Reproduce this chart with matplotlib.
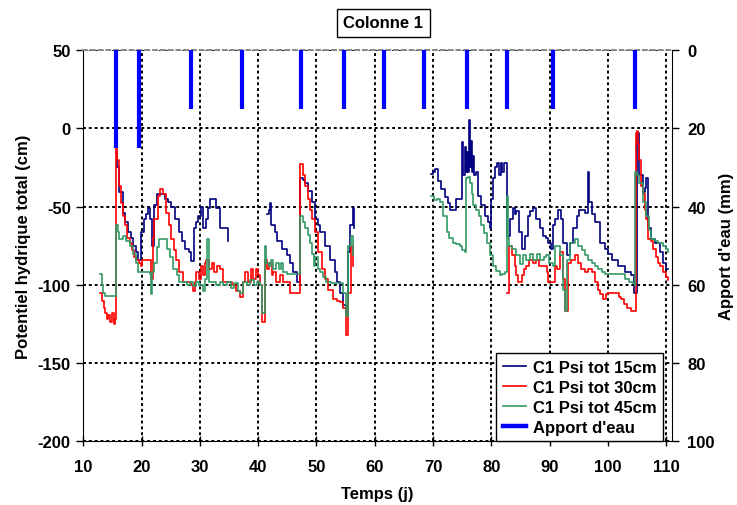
import numpy as np
import matplotlib
matplotlib.use('Agg')
import matplotlib.pyplot as plt
from matplotlib.lines import Line2D

plt.rcParams['font.family'] = ['Liberation Sans', 'DejaVu Sans']
plt.rcParams['font.weight'] = 'bold'
plt.rcParams['axes.labelweight'] = 'bold'
plt.rcParams['axes.unicode_minus'] = False
plt.rcParams['font.size'] = 12

nan = float('nan')

# Potentiel hydrique total (cm) - sonde 15 cm
t15 = [15.6, 15.8, 16.2, 16.8, 17.2, 17.66, 18.1, 18.5, 19.0, 19.4, 19.95, 20.5, 20.8, 21.1, 21.5, 21.8,
       22.2, 22.6, 23.2, 23.7, 24.1, 24.5, 25.0, 25.7, 26.5, 27.0, 27.4, 28.2, 28.5, 29.0, 29.4, 29.7,
       30.2, 30.5, 31.0, 31.4, 31.7, 32.5, 32.8, 33.4, 33.5, 34.5, 34.8, nan,
       41.5, 41.8, 42.1, 42.2, 42.9, 43.2, 44.0, 44.9, 45.4, 46.0, 46.6, 47.15, 47.2, 47.6, 48.0, 48.6,
       49.2, 49.7, 50.2, 50.6, 51.4, 52.3, 53.2, 53.6, 54.0, 54.6, 55.0, 55.4, 55.8, 56.3, 56.4, nan,
       69.7, 70.0, 70.3, 70.9, 71.4, 72.0, 72.5, 72.9, 73.7, 74.0, 74.6, 74.9, 75.0, 75.2, 75.4, 75.6,
       75.8, 76.0, 76.1, 76.3, 76.5, 76.7, 76.9, 77.1, 77.4, 77.7, 78.3, 78.9, 79.4, 79.7, 80.0, 80.3,
       80.6, 81.0, 81.3, 81.6, 81.9, 82.2, 82.6, 82.7, 83.2, 83.7, 84.0, 84.3, 84.7, 85.2, 85.7, 86.3,
       86.7, 87.1, 87.7, 88.3, 88.9, 89.4, 89.7, 90.3, 90.6, 90.9, 91.4, 92.0, 92.3, 92.9, 93.4, 94.0,
       94.6, 95.1, 96.0, 96.6, 96.7, 97.2, 97.7, 98.6, 99.4, 100.0, 100.6, 101.7, 102.9, 104.0, 104.5, 104.9,
       105.4, 106.0, 106.4, 106.6, 106.9, 107.4, 108.0, 108.9, 109.4, 110.0, 110.3]
psi15 = [-15, -25, -41, -54, -60, -66, -70, -75, -79, -84, -66, -58, -55, -51, -58, -75,
         -49, -42, -42, -42, -45, -47, -50, -58, -66, -72, -77, -79, -85, -64, -60, -56,
         -50, -64, -58, -51, -45, -45, -51, -51, -64, -64, -72, nan,
         -55, -52, -48, -62, -66, -72, -77, -81, -86, -92, -98, -98, -32, -33, -35, -40,
         -47, -58, -62, -66, -75, -84, -92, -98, -105, -113, -118, -79, -62, -51, -64, nan,
         -29, -28, -26, -34, -39, -44, -48, -52, -52, -45, -45, -45, -9, -30, -12, -28,
         -15, -28, 5, -25, -8, -28, -18, -30, -28, -43, -49, -56, -60, -64, -45, -32,
         -25, -22, -30, -22, -28, -22, -25, -69, -58, -51, -55, -53, -66, -77, -69, -56,
         -53, -51, -58, -64, -69, -70, -73, -77, -62, -58, -52, -58, -73, -81, -73, -64,
         -56, -52, -54, -28, -47, -55, -60, -73, -77, -80, -84, -88, -92, -94, -105, -3,
         -30, -41, -38, -32, -64, -71, -73, -79, -86, -90, -90]

# sonde 30 cm
t30 = [12.9, 13.2, 13.5, 13.8, 14.0, 14.3, 14.6, 14.9, 15.2, 15.5, 15.56, 15.8, 16.2, 16.5, 16.8, 17.2,
       17.5, 17.95, 18.3, 18.7, 19.1, 19.5, 19.95, 20.1, 20.8, 21.3, 21.65, 22.0, 22.2, 22.8, 23.2, 23.6,
       24.2, 24.7, 25.1, 25.5, 25.9, 26.5, 27.1, 27.8, 28.4, 28.8, 29.1, 29.4, 29.8, 30.2, 30.5, 30.8,
       31.1, 31.5, 32.0, 32.5, 33.0, 33.5, 34.0, 34.8, 35.5, 36.2, 36.9, 37.4, 37.8, 38.2, 38.7, 39.1,
       39.6, 40.0, 40.3, 40.6, 41.1, 41.5, 41.9, 42.3, 42.6, 43.1, 43.7, 44.3, 44.9, 45.4, 46.5, 47.15,
       47.2, 47.6, 48.0, 48.5, 48.9, 49.3, 49.7, 50.3, 50.9, 51.4, 52.0, 52.9, 53.5, 54.0, 54.6, 55.04,
       55.4, 56.0, 56.2, nan,
       82.6, 82.97, 83.5, 84.0, 84.3, 84.6, 85.2, 85.6, 86.0, 86.5, 87.1, 87.6, 88.2, 88.8, 89.45, 89.7,
       90.5, 90.9, 91.2, 91.7, 92.3, 92.7, 93.1, 93.6, 94.3, 94.9, 95.4, 96.0, 96.6, 97.2, 97.7, 98.3,
       98.7, 99.1, 99.6, 100.0, 100.8, 101.4, 101.9, 102.3, 102.8, 103.2, 103.9, 104.6, 104.75, 104.9, 105.2, 105.4,
       105.7, 106.0, 106.3, 106.6, 106.9, 107.3, 107.7, 108.2, 108.6, 109.0, 109.4, 109.9, 110.3]
psi30 = [-105, -110, -115, -118, -122, -119, -124, -118, -125, -122, -10, -20, -37, -48, -56, -62,
         -70, -73, -78, -82, -84, -86, -88, -84, -84, -84, -96, -70, -58, -43, -39, -42,
         -54, -62, -71, -78, -84, -92, -98, -98, -100, -104, -98, -92, -96, -88, -94, -86,
         -84, -90, -86, -92, -88, -90, -98, -98, -100, -104, -108, -98, -92, -98, -90, -96,
         -90, -94, -100, -124, -84, -90, -86, -94, -92, -98, -94, -98, -98, -105, -105, -105,
         -23, -30, -37, -45, -52, -58, -66, -79, -90, -96, -103, -109, -110, -111, -115, -132,
         -105, -75, -88, nan,
         -105, -75, -81, -88, -94, -98, -94, -90, -88, -84, -86, -84, -88, -88, -92, -98,
         -98, -88, -90, -79, -96, -117, -86, -84, -81, -86, -90, -92, -90, -92, -98, -103,
         -106, -109, -106, -105, -105, -105, -108, -109, -112, -115, -117, -117, -3, -2, -10, -20,
         -37, -42, -52, -58, -71, -72, -77, -82, -86, -88, -92, -95, -97]

# sonde 45 cm
t45 = [12.9, 13.2, 13.4, 13.8, 14.5, 15.2, 15.55, 15.6, 15.9, 16.2, 16.8, 17.3, 17.95, 18.5, 19.0, 19.4,
       20.0, 20.5, 21.0, 21.4, 21.6, 21.8, 22.2, 22.6, 23.0, 23.7, 24.3, 24.8, 25.4, 26.0, 26.5, 27.2,
       27.8, 28.3, 28.8, 29.3, 29.8, 30.5, 30.9, 31.2, 31.6, 32.2, 32.8, 33.4, 34.0, 34.7, 35.3, 35.9,
       36.5, 36.9, 37.4, 38.0, 38.6, 39.2, 39.8, 40.3, 40.6, 41.1, 41.4, 41.8, 42.2, 42.6, 43.0, 43.5,
       43.9, 44.3, 45.0, 46.0, 47.15, 47.2, 47.6, 48.0, 48.5, 48.9, 49.2, 49.5, 49.8, 50.2, 50.6, 51.2,
       51.7, 52.5, 53.3, 54.0, 54.6, 55.04, 55.4, 56.0, 56.2, nan,
       69.7, 70.1, 70.6, 71.1, 71.7, 72.3, 72.8, 73.4, 74.0, 74.6, 75.0, 75.4, 75.7, 76.0, 76.3, 76.6,
       76.9, 77.4, 77.8, 78.3, 78.8, 79.2, 79.7, 80.3, 80.8, 81.4, 81.9, 82.3, 82.6, 82.8, 83.0, 83.5,
       84.3, 84.9, 85.4, 86.0, 86.6, 87.2, 87.8, 88.4, 89.0, 89.4, 89.9, 90.5, 90.9, 91.4, 91.7, 92.3,
       92.7, 93.0, 93.4, 94.3, 94.9, 95.5, 96.0, 96.6, 97.2, 97.7, 98.3, 98.9, 99.4, 100.5, 101.5, 102.3,
       102.9, 103.6, 104.3, 104.6, 104.7, 105.0, 105.4, 106.0, 106.6, 107.0, 107.4, 108.0, 108.6, 109.4, 109.9, 110.3]
psi45 = [-93, -100, -105, -107, -107, -107, -107, -62, -66, -71, -69, -72, -75, -80, -86, -92,
         -92, -92, -92, -93, -106, -92, -86, -76, -71, -71, -77, -82, -90, -94, -98, -98,
         -100, -98, -101, -98, -100, -104, -96, -71, -98, -98, -100, -98, -100, -98, -102, -99,
         -104, -105, -98, -100, -97, -100, -98, -100, -118, -75, -86, -88, -84, -90, -86, -90,
         -86, -92, -93, -93, -93, -56, -60, -64, -68, -73, -80, -88, -82, -90, -92, -95,
         -98, -99, -99, -99, -105, -120, -75, -69, -81, nan,
         -43, -46, -45, -47, -56, -66, -70, -73, -74, -75, -78, -79, -32, -31, -35, -42,
         -49, -52, -56, -62, -67, -73, -81, -88, -91, -94, -93, -92, -43, -70, -75, -77,
         -81, -87, -81, -84, -80, -84, -80, -84, -82, -81, -86, -88, -75, -75, -81, -103,
         -117, -84, -73, -71, -75, -78, -81, -84, -86, -88, -90, -92, -93, -93, -93, -93,
         -96, -98, -99, -100, -28, -30, -35, -47, -56, -65, -71, -72, -73, -75, -77, -79]

# Apport d'eau (mm)
jours_apport = [15.55, 19.55, 28.5, 37.3, 47.3, 54.8, 61.6, 68.4, 75.9, 82.7, 90.6, 104.7]
apport = [25, 25, 15, 15, 15, 15, 15, 15, 15, 15, 15, 15]

fig = plt.figure(figsize=(7.37, 5.06), dpi=100)
ax = fig.add_axes([0.113, 0.1255, 0.799, 0.774])

ax.plot(t15, psi15, color='#000080', lw=1.2, drawstyle='steps-post', label='C1 Psi tot 15cm')
ax.plot(t30, psi30, color='#FF0000', lw=1.2, drawstyle='steps-post', label='C1 Psi tot 30cm')
ax.plot(t45, psi45, color='#339966', lw=1.2, drawstyle='steps-post', label='C1 Psi tot 45cm')

ax.set_xlim(10, 111)
ax.set_ylim(-200, 50)
ax.set_xticks(np.arange(10, 111, 10))
ax.set_yticks(np.arange(-200, 51, 50))
ax.grid(True, color='black', linestyle=(0, (1.5, 1.5)), lw=1.4)
ax.tick_params(axis='x', direction='inout', length=7, width=1, pad=9)
ax.tick_params(axis='y', direction='out', length=5, width=1, pad=4)
ax.spines['top'].set_color('#888888')
ax.spines['top'].set_linestyle((0, (2, 2)))
ax.spines['top'].set_linewidth(1.4)
ax.spines['right'].set_visible(False)
ax.set_xlabel('Temps (j)', labelpad=9)
ax.set_ylabel('Potentiel hydrique total (cm)', labelpad=5)

ax2 = ax.twinx()
ax2.vlines(jours_apport, 0, apport, color='#0000FF', lw=3)
ax2.set_ylim(100, 0)
ax2.set_yticks(np.arange(0, 101, 20))
ax2.tick_params(axis='y', direction='out', length=5, width=1, pad=6)
ax2.spines['top'].set_visible(False)
ax2.spines['left'].set_visible(False)
ax2.spines['bottom'].set_visible(False)
ax2.set_ylabel("Apport d'eau (mm)", labelpad=3)

handles, labels = ax.get_legend_handles_labels()
handles.append(Line2D([], [], color='#0000FF', lw=3.2))
labels.append("Apport d'eau")
leg = ax2.legend(handles, labels, loc='lower right', bbox_to_anchor=(0.985, 0.0),
                 fancybox=False, framealpha=1, edgecolor='black', borderpad=0.4,
                 labelspacing=0.3, handlelength=1.4, handletextpad=0.4, borderaxespad=0)
leg.get_frame().set_linewidth(1.0)

fig.text(0.52, 0.953, 'Colonne 1', ha='center', va='center',
         bbox=dict(boxstyle='square,pad=0.4', fc='white', ec='black', lw=1))

fig.savefig('out.png', dpi=100)
